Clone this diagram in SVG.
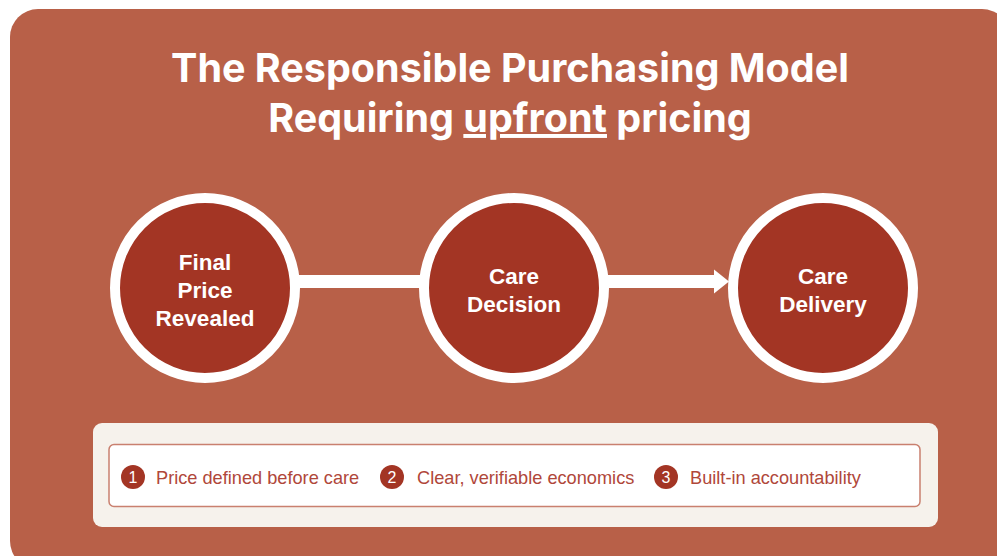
<svg xmlns="http://www.w3.org/2000/svg" width="997" height="556" viewBox="0 0 997 556">
  <defs>
    <style>
      .title { font-family: Inter, "Liberation Sans", sans-serif; font-weight: 700; font-size: 39.5px; fill: #ffffff; text-anchor: middle; }
      .node circle { fill: #a33524; stroke: #ffffff; stroke-width: 10; }
      .node text { font-family: "Liberation Sans", Arial, sans-serif; font-weight: 700; font-size: 22.5px; fill: #ffffff; text-anchor: middle; }
      .link { stroke: #ffffff; stroke-width: 13; fill: none; }
      .head { fill: #ffffff; }
      .badge circle { fill: #a33524; }
      .badge text.num { font-family: "Liberation Sans", Arial, sans-serif; font-size: 16px; fill: #ffffff; text-anchor: middle; }
      .badge text.lbl { font-family: "Liberation Sans", Arial, sans-serif; font-size: 18.2px; fill: #b0473a; }
    </style>
  </defs>

  <!-- panel -->
  <rect x="10" y="9" width="1000" height="560" rx="28" fill="#b86048"/>

  <!-- heading -->
  <g id="title">
    <text class="title" x="510" y="82">The Responsible Purchasing Model</text>
    <text class="title" x="510" y="132">Requiring <tspan text-decoration="underline">upfront</tspan> pricing</text>
  </g>

  <!-- connectors -->
  <g id="connectors">
    <line class="link" x1="298" y1="281.5" x2="422" y2="281.5"/>
    <line class="link" x1="607" y1="281.5" x2="716" y2="281.5"/>
    <polygon class="head" points="714,269.5 729,281.5 714,293.5"/>
  </g>

  <!-- steps -->
  <g id="node-final-price" class="node">
    <circle cx="205" cy="288" r="90"/>
    <text x="205" y="270">Final</text>
    <text x="205" y="298">Price</text>
    <text x="205" y="326">Revealed</text>
  </g>
  <g id="node-care-decision" class="node">
    <circle cx="514" cy="288" r="90"/>
    <text x="514" y="284">Care</text>
    <text x="514" y="312">Decision</text>
  </g>
  <g id="node-care-delivery" class="node">
    <circle cx="823" cy="288" r="90"/>
    <text x="823" y="284">Care</text>
    <text x="823" y="312">Delivery</text>
  </g>

  <!-- principles bar -->
  <g id="principles">
    <rect x="93" y="423" width="845" height="104" rx="9" fill="#f6f2ec"/>
    <rect x="109" y="444.5" width="811" height="62" rx="5" fill="#ffffff" stroke="#c9806f" stroke-width="1.5"/>
    <g id="principle-1" class="badge">
      <circle cx="133" cy="477" r="12"/>
      <text class="num" x="133" y="482.5">1</text>
      <text class="lbl" x="156" y="483.5">Price defined before care</text>
    </g>
    <g id="principle-2" class="badge">
      <circle cx="392" cy="477" r="12"/>
      <text class="num" x="392" y="482.5">2</text>
      <text class="lbl" x="417" y="483.5">Clear, verifiable economics</text>
    </g>
    <g id="principle-3" class="badge">
      <circle cx="666" cy="477" r="12"/>
      <text class="num" x="666" y="482.5">3</text>
      <text class="lbl" x="690" y="483.5">Built-in accountability</text>
    </g>
  </g>
</svg>
